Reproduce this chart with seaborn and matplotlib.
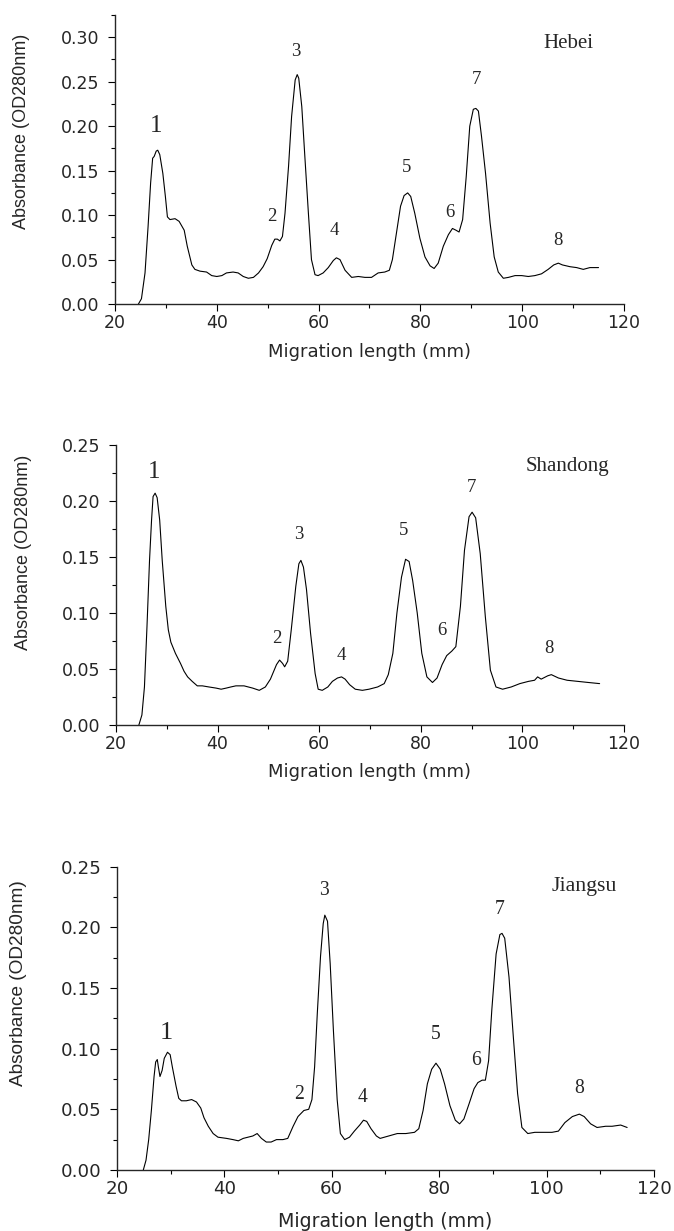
import numpy as np
import pandas as pd
import seaborn as sns
import matplotlib.pyplot as plt
from matplotlib.ticker import MultipleLocator, FormatStrFormatter

# ---- data ----
hebei_x = [24.6, 25.2, 25.9, 26.5, 27.0, 27.4, 27.7, 28.1, 28.4, 28.8, 29.4, 29.9, 30.3, 30.8,
           31.8, 32.6, 33.6, 34.2, 35.1, 35.7, 36.7, 38.0, 39.0, 40.0, 41.0, 41.9, 43.2, 44.2,
           45.2, 46.2, 47.2, 48.2, 49.1, 49.9, 50.8, 51.4, 51.9, 52.4, 52.9, 53.4, 54.1, 54.7,
           55.4, 55.8, 56.1, 56.7, 57.3, 58.0, 58.6, 59.3, 59.9, 60.9, 61.9, 62.9, 63.5, 64.2,
           65.2, 66.5, 67.8, 69.1, 70.4, 71.7, 73.0, 73.9, 74.5, 75.3, 76.1, 76.8, 77.5, 78.1,
           78.9, 79.9, 80.9, 81.9, 82.7, 83.5, 84.5, 85.5, 86.3, 87.0, 87.6, 88.3, 89.0, 89.7,
           90.4, 90.9, 91.4, 92.0, 92.8, 93.7, 94.5, 95.3, 96.3, 97.3, 98.6, 99.9, 101.2, 102.5,
           103.8, 105.1, 106.2, 107.1, 107.9, 109.4, 110.7, 112.0, 113.3, 114.3, 115.0]
hebei_y = [0.000, 0.006, 0.035, 0.087, 0.136, 0.164, 0.166, 0.172, 0.173, 0.168, 0.147, 0.121,
           0.098, 0.095, 0.096, 0.093, 0.083, 0.065, 0.044, 0.039, 0.037, 0.036, 0.032, 0.031,
           0.032, 0.035, 0.036, 0.035, 0.031, 0.029, 0.030, 0.035, 0.042, 0.051, 0.066, 0.073,
           0.073, 0.071, 0.076, 0.102, 0.155, 0.211, 0.252, 0.258, 0.254, 0.222, 0.166, 0.102,
           0.050, 0.033, 0.032, 0.035, 0.041, 0.049, 0.052, 0.050, 0.038, 0.030, 0.031, 0.030,
           0.030, 0.035, 0.036, 0.038, 0.050, 0.080, 0.110, 0.122, 0.125, 0.121, 0.102, 0.074,
           0.053, 0.043, 0.040, 0.046, 0.065, 0.078, 0.085, 0.083, 0.081, 0.095, 0.143, 0.200,
           0.219, 0.220, 0.217, 0.189, 0.147, 0.091, 0.053, 0.036, 0.029, 0.030, 0.032, 0.032,
           0.031, 0.032, 0.034, 0.039, 0.044, 0.046, 0.044, 0.042, 0.041, 0.039, 0.041, 0.041,
           0.041]

shandong_x = [24.5, 25.1, 25.6, 26.1, 26.6, 27.0, 27.3, 27.7, 28.1, 28.6, 29.1, 29.8, 30.3, 30.8,
              31.7, 32.7, 33.4, 34.1, 35.0, 36.0, 37.0, 38.3, 39.7, 40.7, 41.7, 42.6, 43.6, 45.2,
              46.9, 48.2, 49.4, 50.4, 51.6, 52.2, 52.8, 53.2, 53.8, 54.5, 55.4, 56.0, 56.4, 56.9,
              57.5, 58.3, 59.2, 59.8, 60.6, 61.7, 62.6, 63.6, 64.4, 65.1, 66.0, 67.1, 68.5, 69.8,
              71.5, 72.8, 73.6, 74.5, 75.3, 76.2, 77.0, 77.7, 78.4, 79.3, 80.2, 81.2, 82.3, 83.2,
              84.2, 85.1, 86.1, 86.9, 87.8, 88.6, 89.5, 90.1, 90.8, 91.7, 92.7, 93.7, 94.8, 96.1,
              97.8, 99.5, 101.2, 102.4, 103.0, 103.7, 105.0, 105.7, 107.1, 108.8, 110.9, 113.0,
              115.2]
shandong_y = [0.000, 0.009, 0.034, 0.088, 0.147, 0.183, 0.204, 0.207, 0.203, 0.183, 0.147, 0.106,
              0.085, 0.074, 0.064, 0.055, 0.048, 0.043, 0.039, 0.035, 0.035, 0.034, 0.033, 0.032,
              0.033, 0.034, 0.035, 0.035, 0.033, 0.031, 0.034, 0.041, 0.054, 0.058, 0.055, 0.052,
              0.057, 0.085, 0.124, 0.144, 0.147, 0.141, 0.121, 0.082, 0.046, 0.032, 0.031, 0.034,
              0.039, 0.042, 0.043, 0.041, 0.036, 0.032, 0.031, 0.032, 0.034, 0.037, 0.045, 0.064,
              0.100, 0.132, 0.148, 0.146, 0.129, 0.100, 0.064, 0.043, 0.038, 0.042, 0.054, 0.062,
              0.066, 0.070, 0.106, 0.156, 0.186, 0.190, 0.185, 0.153, 0.097, 0.049, 0.034, 0.032,
              0.034, 0.037, 0.039, 0.040, 0.043, 0.041, 0.044, 0.045, 0.042, 0.040, 0.039, 0.038,
              0.037]

jiangsu_x = [24.9, 25.4, 25.9, 26.4, 26.9, 27.2, 27.5, 27.7, 28.0, 28.4, 28.8, 29.4, 29.9, 30.3,
             31.0, 31.5, 32.0, 32.9, 33.9, 34.8, 35.6, 36.2, 37.0, 37.9, 38.8, 40.4, 41.6, 42.6,
             43.5, 44.4, 45.3, 46.1, 46.9, 47.8, 48.7, 49.7, 50.9, 51.8, 52.8, 53.7, 54.8, 55.7,
             56.3, 56.8, 57.3, 57.9, 58.4, 58.7, 59.2, 59.7, 60.3, 61.0, 61.6, 62.4, 63.3, 64.2,
             65.2, 65.9, 66.5, 67.3, 68.3, 69.0, 70.6, 72.2, 73.8, 75.4, 76.2, 77.0, 77.8, 78.6,
             79.4, 80.2, 81.0, 82.0, 83.0, 83.8, 84.6, 85.6, 86.5, 87.2, 88.0, 88.6, 89.2, 89.8,
             90.6, 91.3, 91.7, 92.2, 93.0, 93.8, 94.6, 95.4, 96.5, 97.8, 99.4, 101.0, 102.2, 103.4,
             104.8, 106.1, 107.0, 108.2, 109.4, 111.0, 112.2, 113.8, 115.0]
jiangsu_y = [0.000, 0.008, 0.025, 0.049, 0.077, 0.089, 0.091, 0.085, 0.077, 0.082, 0.092, 0.097,
             0.095, 0.085, 0.069, 0.059, 0.057, 0.057, 0.058, 0.056, 0.051, 0.043, 0.036, 0.030,
             0.027, 0.026, 0.025, 0.024, 0.026, 0.027, 0.028, 0.030, 0.026, 0.023, 0.023, 0.025,
             0.025, 0.026, 0.036, 0.044, 0.049, 0.050, 0.058, 0.085, 0.129, 0.176, 0.203, 0.210,
             0.205, 0.170, 0.115, 0.058, 0.030, 0.025, 0.027, 0.032, 0.037, 0.041, 0.040, 0.034,
             0.028, 0.026, 0.028, 0.030, 0.030, 0.031, 0.034, 0.049, 0.071, 0.083, 0.088, 0.083,
             0.071, 0.053, 0.041, 0.038, 0.042, 0.055, 0.067, 0.072, 0.074, 0.074, 0.090, 0.132,
             0.178, 0.194, 0.195, 0.191, 0.159, 0.110, 0.063, 0.035, 0.030, 0.031, 0.031, 0.031,
             0.032, 0.039, 0.044, 0.046, 0.044, 0.038, 0.035, 0.036, 0.036, 0.037, 0.035]

band_labels = ["1", "2", "3", "4", "5", "6", "7", "8"]
hebei_lab_x = [28.1, 50.8, 55.6, 63.0, 77.3, 85.7, 91.0, 107.1]
hebei_lab_y = [0.200, 0.098, 0.284, 0.083, 0.153, 0.103, 0.252, 0.072]
shandong_lab_x = [27.5, 51.6, 56.0, 64.3, 76.6, 84.2, 89.9, 105.2]
shandong_lab_y = [0.226, 0.077, 0.170, 0.0625, 0.1735, 0.084, 0.212, 0.068]
jiangsu_lab_x = [29.2, 53.9, 58.5, 65.7, 79.4, 86.8, 91.2, 106.1]
jiangsu_lab_y = [0.1126, 0.062, 0.230, 0.060, 0.112, 0.090, 0.215, 0.067]

# ---- layout (figure fractions), per panel ----
panels = [
    dict(name="Hebei", x=hebei_x, y=hebei_y, lx=hebei_lab_x, ly=hebei_lab_y,
         rect=[0.1706, 0.7530, 0.7552, 0.2348], ytop=0.325, name_xy=(109.0, 0.2925),
         ylab_y=0.599, xlab_y=-0.166, scale=1.0),
    dict(name="Shandong", x=shandong_x, y=shandong_y, lx=shandong_lab_x, ly=shandong_lab_y,
         rect=[0.1721, 0.4110, 0.7537, 0.2275], ytop=0.25, name_xy=(108.8, 0.231),
         ylab_y=0.616, xlab_y=-0.167, scale=1.0),
    dict(name="Jiangsu", x=jiangsu_x, y=jiangsu_y, lx=jiangsu_lab_x, ly=jiangsu_lab_y,
         rect=[0.1736, 0.0496, 0.7967, 0.2464], ytop=0.25, name_xy=(107.0, 0.2335),
         ylab_y=0.617, xlab_y=-0.170, scale=1.05),
]

sns.set_style("ticks")
plt.rcParams['font.family'] = ['DejaVu Sans']

fig = plt.figure(figsize=(6.74, 12.31), dpi=100)

for p in panels:
    s = p["scale"]
    ax = fig.add_axes(p["rect"])
    df = pd.DataFrame({"mm": p["x"], "od": p["y"]})
    sns.lineplot(data=df, x="mm", y="od", ax=ax, color="black", linewidth=0.8,
                 estimator=None, sort=False)

    ax.set_xlim(20, 120)
    ax.set_ylim(0, p["ytop"])
    ax.xaxis.set_major_locator(MultipleLocator(20))
    ax.xaxis.set_minor_locator(MultipleLocator(10))
    ax.yaxis.set_major_locator(MultipleLocator(0.05))
    ax.yaxis.set_minor_locator(MultipleLocator(0.025))
    ax.yaxis.set_major_formatter(FormatStrFormatter('%.2f'))
    sns.despine(ax=ax)
    for sp in ax.spines.values():
        sp.set_linewidth(1.0)
    ax.tick_params(which='major', direction='out', length=5, width=0.8,
                   labelsize=12.5 * s, color='black')
    ax.tick_params(which='minor', direction='out', length=3, width=0.8, color='black')
    ax.tick_params(axis='y', which='major', pad=6)
    ax.tick_params(axis='x', which='major', pad=2.5)

    ax.set_xlabel("Migration length (mm)", fontsize=13 * s, va='center')
    ax.xaxis.set_label_coords(0.5, p["xlab_y"])
    ax.set_ylabel("Absorbance (OD280nm)", fontsize=13 * s, va='center',
                  family='Liberation Sans')
    ax.yaxis.set_label_coords(-0.183, p["ylab_y"])

    for lab, tx, ty in zip(band_labels, p["lx"], p["ly"]):
        fs = 18 * s if lab == "1" else 13.5 * s
        ax.text(tx, ty, lab, ha='center', va='center', fontsize=fs,
                family='Liberation Serif')
    ax.text(p["name_xy"][0], p["name_xy"][1], p["name"], ha='center', va='center',
            fontsize=15 * s, family='Liberation Serif')

fig.savefig("out.png", dpi=100)
